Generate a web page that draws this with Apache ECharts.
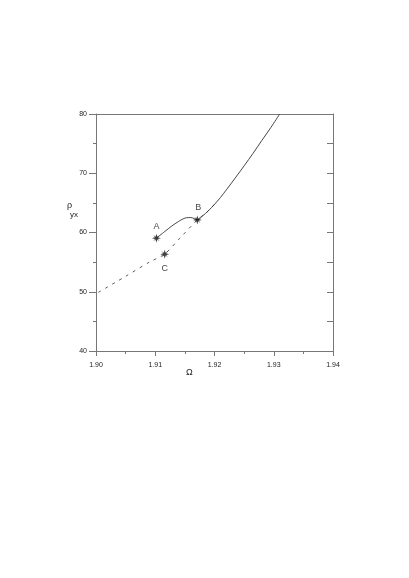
<!DOCTYPE html>
<html>
<head>
<meta charset="utf-8">
<script src="https://cdn.jsdelivr.net/npm/echarts@6/dist/echarts.min.js"></script>
<style>html,body{margin:0;padding:0;background:#fff;}#c{width:409px;height:578px;}</style>
</head>
<body>
<div id="c"></div>
<script>
// Solid branch (Omega, rho_yx)
const solidX = [1.9102, 1.9116, 1.9128, 1.9139, 1.9147, 1.9153, 1.9160, 1.9166, 1.9171, 1.9180, 1.9189, 1.9200, 1.9210, 1.9220, 1.9235, 1.9250, 1.9265, 1.9280, 1.9295, 1.9310];
const solidY = [59.05, 60.16, 61.10, 61.84, 62.30, 62.50, 62.52, 62.35, 62.13, 62.80, 63.60, 64.75, 65.90, 67.20, 69.20, 71.25, 73.35, 75.55, 77.70, 80.00];
// Dashed branch
const dashX = [1.9004, 1.9050, 1.9090, 1.9116, 1.9143, 1.9171, 1.9189, 1.9206];
const dashY = [49.90, 52.60, 55.00, 56.35, 59.20, 62.13, 63.60, 65.40];
// Marked points
const markNames = ['A', 'B', 'C'];
const markX = [1.9102, 1.9171, 1.9116];
const markY = [59.05, 62.13, 56.35];
// Ticks
const xTicks = [1.90, 1.91, 1.92, 1.93, 1.94];
const yTicks = [40, 50, 60, 70, 80];

const FONT = 'Liberation Sans';
const AX = '#777';
const LINE = '#333';
const zip = (a, b) => a.map((v, i) => [v, b[i]]);
const starPath = 'path://M0,-5L1,-1.6L3.5,-3.5L1.6,-1L5,0L1.6,1L3.5,3.5L1,1.6L0,5L-1,1.6L-3.5,3.5L-1.6,1L-5,0L-1.6,-1L-3.5,-3.5L-1,-1.6Z';

const chart = echarts.init(document.getElementById('c'));
chart.setOption({
  animation: false,
  backgroundColor: '#fff',
  grid: {left: 96, top: 114, width: 237, height: 237, containLabel: false},
  xAxis: [{
    type: 'value', min: xTicks[0], max: xTicks[xTicks.length - 1], interval: 0.01,
    axisLine: {onZero: false, lineStyle: {color: AX, width: 1}},
    axisTick: {length: 5, lineStyle: {color: AX}},
    minorTick: {show: true, splitNumber: 2, length: 3, lineStyle: {color: AX}},
    splitLine: {show: false},
    axisLabel: {fontFamily: FONT, fontSize: 7, color: '#222', margin: 11, formatter: v => v.toFixed(2)}
  }, {
    type: 'value', position: 'top', min: xTicks[0], max: xTicks[xTicks.length - 1], interval: 0.01,
    axisLine: {onZero: false, lineStyle: {color: AX, width: 1}},
    axisTick: {show: false}, axisLabel: {show: false}, splitLine: {show: false}
  }],
  yAxis: [{
    type: 'value', min: yTicks[0], max: yTicks[yTicks.length - 1], interval: 10,
    axisLine: {onZero: false, lineStyle: {color: AX, width: 1}},
    axisTick: {length: 7, lineStyle: {color: AX}},
    minorTick: {show: true, splitNumber: 2, length: 3, lineStyle: {color: AX}},
    splitLine: {show: false},
    axisLabel: {fontFamily: FONT, fontSize: 7, color: '#222', margin: 9}
  }, {
    type: 'value', position: 'right', min: yTicks[0], max: yTicks[yTicks.length - 1], interval: 10,
    axisLine: {onZero: false, lineStyle: {color: AX, width: 1}},
    axisTick: {inside: true, length: 6, lineStyle: {color: AX}},
    minorTick: {show: true, splitNumber: 2, length: 6, lineStyle: {color: AX}},
    axisLabel: {show: false}, splitLine: {show: false}
  }],
  graphic: [
    {type: 'text', left: 67, top: 201, style: {text: 'ρ', font: '9px "Liberation Sans"', fill: '#222'}},
    {type: 'text', left: 70, top: 211, style: {text: 'yx', font: '8px "Liberation Sans"', fill: '#222'}},
    {type: 'text', left: 186, top: 368, style: {text: 'Ω', font: '9px "Liberation Sans"', fill: '#222'}}
  ],
  series: [{
    type: 'line', data: zip(dashX, dashY), smooth: 0.2, showSymbol: false,
    lineStyle: {color: LINE, width: 0.8, type: [3, 5]}
  }, {
    type: 'line', data: zip(solidX, solidY), smooth: 0.3, showSymbol: false,
    lineStyle: {color: LINE, width: 0.9}
  }, {
    type: 'scatter', data: markX.map((x, i) => ({value: [x, markY[i]], name: markNames[i],
      label: {position: i === 2 ? 'bottom' : 'top', offset: i === 0 ? [0, 0] : (i === 1 ? [1, 0] : [0, 2])}})),
    symbol: starPath, symbolSize: 9,
    itemStyle: {color: '#111'},
    label: {show: true, formatter: p => p.name, fontFamily: FONT, fontSize: 9, color: '#111', distance: 3},
    z: 5
  }]
});
</script>
</body>
</html>
